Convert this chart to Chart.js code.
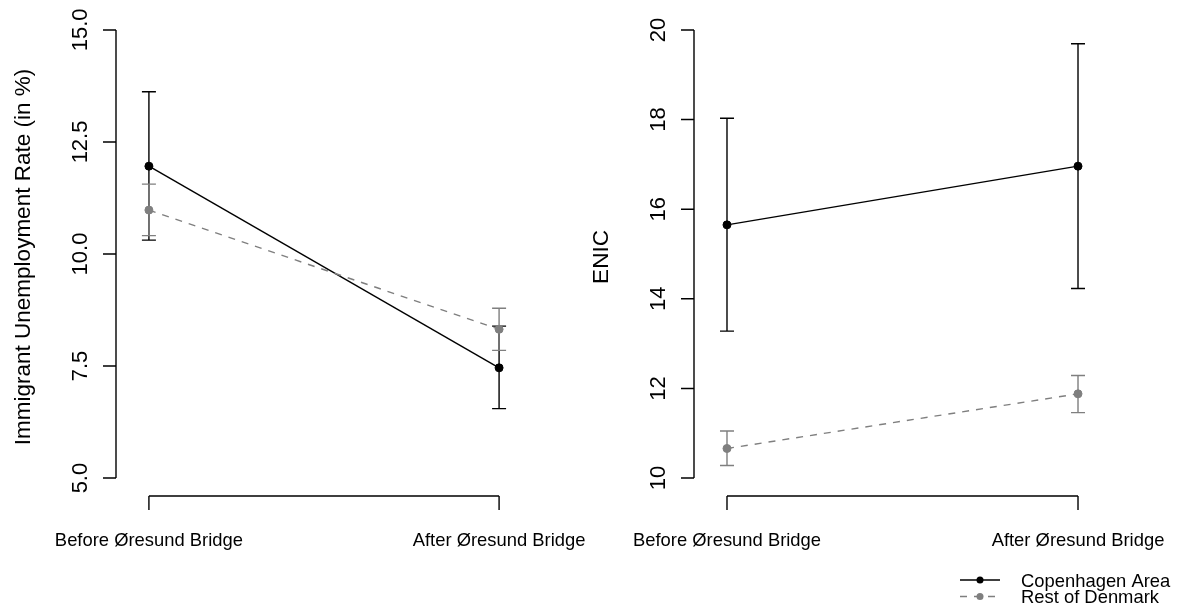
<!DOCTYPE html>
<html>
<head>
<meta charset="utf-8">
<script src="https://cdn.jsdelivr.net/npm/chart.js@4/dist/chart.umd.min.js"></script>
<style>
  html, body { margin: 0; padding: 0; background: #ffffff; }
  #wrap { position: relative; width: 1179px; height: 608px; overflow: hidden; }
  .panel { position: absolute; top: 0; }
</style>
</head>
<body>
<div id="wrap">
  <div class="panel" style="left:0px;"><canvas id="left" width="589" height="608"></canvas></div>
  <div class="panel" style="left:589px;"><canvas id="right" width="590" height="608"></canvas></div>
</div>
<script>
// Period categories on the x axis (positions 1 and 2)
const periods = ['Before Øresund Bridge', 'After Øresund Bridge'];
const periodPos = [1, 2];

// Immigrant unemployment rate (in %), means with 95% interval bounds
const unempCph   = [11.96, 7.46];
const unempCphLo = [10.31, 6.55];
const unempCphHi = [13.62, 8.39];
const unempRest   = [10.98, 8.32];
const unempRestLo = [10.41, 7.85];
const unempRestHi = [11.56, 8.79];

// ENIC, means with interval bounds
const enicCph   = [15.65, 16.96];
const enicCphLo = [13.28, 14.23];
const enicCphHi = [18.03, 19.69];
const enicRest   = [10.66, 11.88];
const enicRestLo = [10.28, 11.46];
const enicRestHi = [11.05, 12.29];

// Axis tick values
const unempTicks = [5, 7.5, 10, 12.5, 15];
const unempTickLabels = ['5.0', '7.5', '10.0', '12.5', '15.0'];
const enicTicks = [10, 12, 14, 16, 18, 20];
const enicTickLabels = ['10', '12', '14', '16', '18', '20'];

const seriesNames = ['Copenhagen Area', 'Rest of Denmark'];

const FONT = '"Liberation Sans", Arial, Helvetica, sans-serif';
const BLACK = '#000000';
const GREY = '#7f7f7f';
const LW = 1.4;

function pts(ys) { return ys.map((y, i) => ({ x: periodPos[i], y: y })); }

// Error bars, drawn right after each dataset so later series sit on top
const errorBars = {
  id: 'errorBars',
  afterDatasetDraw(chart, args) {
    const ds = chart.data.datasets[args.index];
    if (!ds.lo) return;
    const ctx = chart.ctx, xs = chart.scales.x, ys = chart.scales.y;
    ctx.save();
    ctx.strokeStyle = ds.borderColor;
    ctx.lineWidth = LW;
    ctx.setLineDash([]);
    ds.lo.forEach((lo, i) => {
      const px = xs.getPixelForValue(periodPos[i]);
      const y1 = ys.getPixelForValue(lo);
      const y2 = ys.getPixelForValue(ds.hi[i]);
      ctx.beginPath();
      ctx.moveTo(px, y1); ctx.lineTo(px, y2);
      ctx.moveTo(px - 7, y1); ctx.lineTo(px + 7, y1);
      ctx.moveTo(px - 7, y2); ctx.lineTo(px + 7, y2);
      ctx.stroke();
    });
    ctx.restore();
  }
};

// Detached, base-graphics style axes
const detachedAxes = {
  id: 'detachedAxes',
  afterDraw(chart, args, opts) {
    const ctx = chart.ctx, xs = chart.scales.x, ys = chart.scales.y;
    const area = chart.chartArea;
    ctx.save();
    ctx.strokeStyle = BLACK;
    ctx.fillStyle = BLACK;
    ctx.lineWidth = LW;
    ctx.setLineDash([]);

    // y axis
    const yTop = ys.getPixelForValue(opts.yTicks[opts.yTicks.length - 1]);
    const yBot = ys.getPixelForValue(opts.yTicks[0]);
    ctx.beginPath();
    ctx.moveTo(area.left, yTop); ctx.lineTo(area.left, yBot);
    opts.yTicks.forEach(v => {
      const py = ys.getPixelForValue(v);
      ctx.moveTo(area.left, py); ctx.lineTo(area.left - 13, py);
    });
    ctx.stroke();
    ctx.font = '22px ' + FONT;
    ctx.textAlign = 'center';
    ctx.textBaseline = 'alphabetic';
    opts.yTicks.forEach((v, i) => {
      const py = ys.getPixelForValue(v);
      ctx.save();
      ctx.translate(area.left - 29, py);
      ctx.rotate(-Math.PI / 2);
      ctx.fillText(opts.yLabels[i], 0, 0);
      ctx.restore();
    });
    // y title
    ctx.save();
    ctx.font = '22.5px ' + FONT;
    ctx.translate(area.left - 86, (area.top + area.bottom) / 2 + 3);
    ctx.rotate(-Math.PI / 2);
    ctx.fillText(opts.yTitle, 0, 0);
    ctx.restore();

    // x axis
    const x1 = xs.getPixelForValue(periodPos[0]);
    const x2 = xs.getPixelForValue(periodPos[periodPos.length - 1]);
    ctx.beginPath();
    ctx.moveTo(x1, area.bottom); ctx.lineTo(x2, area.bottom);
    periodPos.forEach(p => {
      const px = xs.getPixelForValue(p);
      ctx.moveTo(px, area.bottom); ctx.lineTo(px, area.bottom + 14);
    });
    ctx.stroke();
    ctx.font = '18.4px ' + FONT;
    periods.forEach((lab, i) => {
      ctx.fillText(lab, xs.getPixelForValue(periodPos[i]), area.bottom + 50);
    });
    ctx.restore();
  }
};

// Legend in the lower right corner
const lineLegend = {
  id: 'lineLegend',
  afterDraw(chart, args, opts) {
    if (!opts.show) return;
    const ctx = chart.ctx;
    ctx.save();
    const rows = [
      { name: seriesNames[0], color: BLACK, dash: [], y: 580 },
      { name: seriesNames[1], color: GREY, dash: [7, 7], y: 596.5 }
    ];
    rows.forEach(r => {
      ctx.strokeStyle = r.color;
      ctx.fillStyle = r.color;
      ctx.lineWidth = LW;
      ctx.setLineDash(r.dash);
      ctx.beginPath();
      ctx.moveTo(opts.x, r.y); ctx.lineTo(opts.x + 40, r.y);
      ctx.stroke();
      ctx.setLineDash([]);
      ctx.beginPath();
      ctx.arc(opts.x + 20, r.y, 3.5, 0, Math.PI * 2);
      ctx.fill();
      ctx.fillStyle = BLACK;
      ctx.font = '18.4px ' + FONT;
      ctx.textAlign = 'left';
      ctx.textBaseline = 'alphabetic';
      ctx.fillText(r.name, opts.x + 61, r.y + 6.8);
    });
    ctx.restore();
  }
};

function makeChart(id, cph, cphLo, cphHi, rest, restLo, restHi, yMin, yMax, ticks, tickLabels, title, padding, legend) {
  return new Chart(document.getElementById(id), {
    type: 'line',
    data: {
      datasets: [
        {
          label: seriesNames[0], data: pts(cph), lo: cphLo, hi: cphHi,
          borderColor: BLACK, backgroundColor: BLACK,
          borderWidth: LW, pointRadius: 4, pointBorderWidth: 1,
          pointBackgroundColor: BLACK, pointBorderColor: BLACK,
          tension: 0, order: 2
        },
        {
          label: seriesNames[1], data: pts(rest), lo: restLo, hi: restHi,
          borderColor: GREY, backgroundColor: GREY, borderDash: [7, 7],
          borderWidth: LW, pointRadius: 4, pointBorderWidth: 1,
          pointBackgroundColor: GREY, pointBorderColor: GREY,
          tension: 0, order: 1
        }
      ]
    },
    options: {
      responsive: false,
      animation: false,
      devicePixelRatio: 1,
      layout: { padding: padding },
      scales: {
        x: { type: 'linear', min: 0.906, max: 2.094, display: false },
        y: { type: 'linear', min: yMin, max: yMax, display: false }
      },
      plugins: {
        legend: { display: false },
        tooltip: { enabled: false },
        detachedAxes: { yTicks: ticks, yLabels: tickLabels, yTitle: title },
        lineLegend: legend
      }
    },
    plugins: [errorBars, detachedAxes, lineLegend]
  });
}

makeChart('left', unempCph, unempCphLo, unempCphHi, unempRest, unempRestLo, unempRestHi,
  4.6, 15.4, unempTicks, unempTickLabels, 'Immigrant Unemployment Rate (in %)',
  { left: 116, right: 57, top: 12, bottom: 112 }, { show: false });

makeChart('right', enicCph, enicCphLo, enicCphHi, enicRest, enicRestLo, enicRestHi,
  9.6, 20.4, enicTicks, enicTickLabels, 'ENIC',
  { left: 105, right: 68, top: 12, bottom: 112 }, { show: true, x: 371 });
</script>
</body>
</html>
